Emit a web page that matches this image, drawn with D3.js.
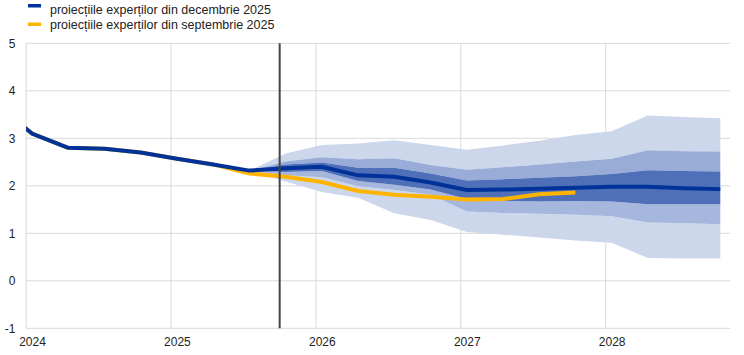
<!DOCTYPE html>
<html>
<head>
<meta charset="utf-8">
<script src="https://cdn.jsdelivr.net/npm/d3@7"></script>
<style>
  html, body { margin: 0; padding: 0; background: #fff; }
  svg { display: block; font-family: "Liberation Sans", Arial, sans-serif; }
</style>
</head>
<body>
<svg id="chart" width="744" height="355"></svg>
<script>
// ---- data ----
const quarters = ["2023Q4","2024Q1","2024Q2","2024Q3","2024Q4","2025Q1","2025Q2","2025Q3","2025Q4",
  "2026Q1","2026Q2","2026Q3","2026Q4","2027Q1","2027Q2","2027Q3","2027Q4","2028Q1","2028Q2","2028Q3","2028Q4"];
const decProj = [3.72,3.10,2.80,2.78,2.70,2.57,2.45,2.32,2.37,2.40,2.22,2.19,2.07,1.91,1.92,1.94,1.96,1.98,1.98,1.95,1.93];
const sepQuarters = quarters.slice(0, 17);
const sepProj = [3.72,3.10,2.80,2.78,2.70,2.57,2.45,2.26,2.19,2.08,1.89,1.81,1.77,1.71,1.72,1.82,1.86];
const bandQuarters = quarters.slice(7);
const outerHi = [2.32,2.68,2.86,2.89,2.96,2.86,2.76,2.85,2.95,3.07,3.15,3.48,3.45,3.42];
const midHi   = [2.32,2.51,2.60,2.56,2.58,2.44,2.34,2.39,2.45,2.51,2.57,2.75,2.73,2.72];
const innerHi = [2.32,2.45,2.49,2.38,2.38,2.26,2.11,2.14,2.17,2.20,2.25,2.33,2.31,2.30];
const innerLo = [2.32,2.29,2.31,2.10,2.02,1.92,1.72,1.68,1.67,1.68,1.67,1.61,1.61,1.61];
const midLo   = [2.32,2.22,2.18,1.99,1.91,1.81,1.46,1.43,1.41,1.39,1.36,1.23,1.21,1.19];
const outerLo = [2.32,2.09,1.87,1.75,1.42,1.28,1.03,0.97,0.91,0.85,0.80,0.48,0.47,0.47];
const yearTicks = [2024, 2025, 2026, 2027, 2028];
const yTicks = [-1, 0, 1, 2, 3, 4, 5];
const cutoff = "2025Q4";
const legendLabels = ["proiecțiile experților din decembrie 2025", "proiecțiile experților din septembrie 2025"];

// ---- helpers ----
const qTime = q => +q.slice(0,4) + (+q.slice(5) - 1) / 4 + 0.041;

const svg = d3.select("#chart");
const pL = 26.1, pR = 730.3, pT = 43.3, pB = 328.3;
const x = d3.scaleLinear().domain([2024, 2028.86]).range([pL, pR]);
const y = d3.scaleLinear().domain([-1, 5]).range([pB, pT]);

svg.append("defs").append("clipPath").attr("id", "plot")
  .append("rect").attr("x", pL).attr("y", pT - 5).attr("width", pR - pL).attr("height", pB - pT + 10);

// grid
const grid = svg.append("g");
grid.selectAll("line.h").data(yTicks).join("line")
  .attr("x1", pL).attr("x2", pR)
  .attr("y1", d => y(d)).attr("y2", d => y(d))
  .attr("stroke", "#d9d9d9").attr("stroke-width", 1);
grid.selectAll("line.v").data(yearTicks).join("line")
  .attr("x1", d => x(d)).attr("x2", d => x(d))
  .attr("y1", pT).attr("y2", pB)
  .attr("stroke", "#d9d9d9").attr("stroke-width", 1);

// axes labels
const yAxis = d3.axisLeft(y).tickValues(yTicks).tickSize(0).tickPadding(0).tickFormat(d => String(d));
const gy = svg.append("g").attr("transform", `translate(15.5,0)`).call(yAxis);
gy.select(".domain").remove();
gy.selectAll("text").attr("font-size", 12).attr("fill", "#222").attr("font-family", "Liberation Sans, Arial, sans-serif");

const xAxis = d3.axisBottom(x).tickValues(yearTicks.map(v => v + 0.041)).tickSize(0).tickPadding(0)
  .tickFormat(d => String(Math.floor(d)));
const gx = svg.append("g").attr("transform", `translate(0,${pB + 9})`).call(xAxis);
gx.select(".domain").remove();
gx.selectAll("text").attr("font-size", 12).attr("fill", "#222").attr("font-family", "Liberation Sans, Arial, sans-serif");

// bands
const plot = svg.append("g").attr("clip-path", "url(#plot)");
const bandRows = bandQuarters.map((q, i) => ({
  t: qTime(q), oh: outerHi[i], mh: midHi[i], ih: innerHi[i], il: innerLo[i], ml: midLo[i], ol: outerLo[i]
}));
const area = (lo, hi) => d3.area().x(d => x(d.t)).y0(d => y(d[lo])).y1(d => y(d[hi]))(bandRows);
const bands = [
  ["ol", "ml", "#ccd7eb"], ["mh", "oh", "#ccd7eb"],
  ["ml", "il", "#a6b7dd"], ["ih", "mh", "#99acd7"],
  ["il", "ih", "#4f6fb8"]
];
bands.forEach(([lo, hi, c]) => plot.append("path").attr("d", area(lo, hi)).attr("fill", c));

// lines
const line = d3.line().x(d => x(d.t)).y(d => y(d.v));
const sepData = sepQuarters.map((q, i) => ({ t: qTime(q), v: sepProj[i] }));
const decData = quarters.map((q, i) => ({ t: qTime(q), v: decProj[i] }));
plot.append("path").attr("d", line(sepData)).attr("fill", "none")
  .attr("stroke", "#ffb400").attr("stroke-width", 4).attr("stroke-linejoin", "round");
plot.append("path").attr("d", line(decData)).attr("fill", "none")
  .attr("stroke", "#003299").attr("stroke-width", 4).attr("stroke-linejoin", "round");

// cutoff line
const cx = x(+cutoff.slice(0,4) + (+cutoff.slice(5) - 1) / 4);
svg.append("line").attr("x1", cx).attr("x2", cx).attr("y1", pT).attr("y2", pB)
  .attr("stroke", "#444").attr("stroke-width", 2);

// legend
const legendColors = ["#003299", "#ffb400"];
const lg = svg.append("g");
legendLabels.forEach((lab, i) => {
  lg.append("rect").attr("x", 28).attr("y", i === 0 ? 4 : 22.5).attr("width", 13).attr("height", 3.5)
    .attr("fill", legendColors[i]);
  lg.append("text").attr("x", 50).attr("y", i === 0 ? 13.8 : 29.4).text(lab)
    .attr("font-size", 12.5).attr("fill", "#222");
});
</script>
</body>
</html>
